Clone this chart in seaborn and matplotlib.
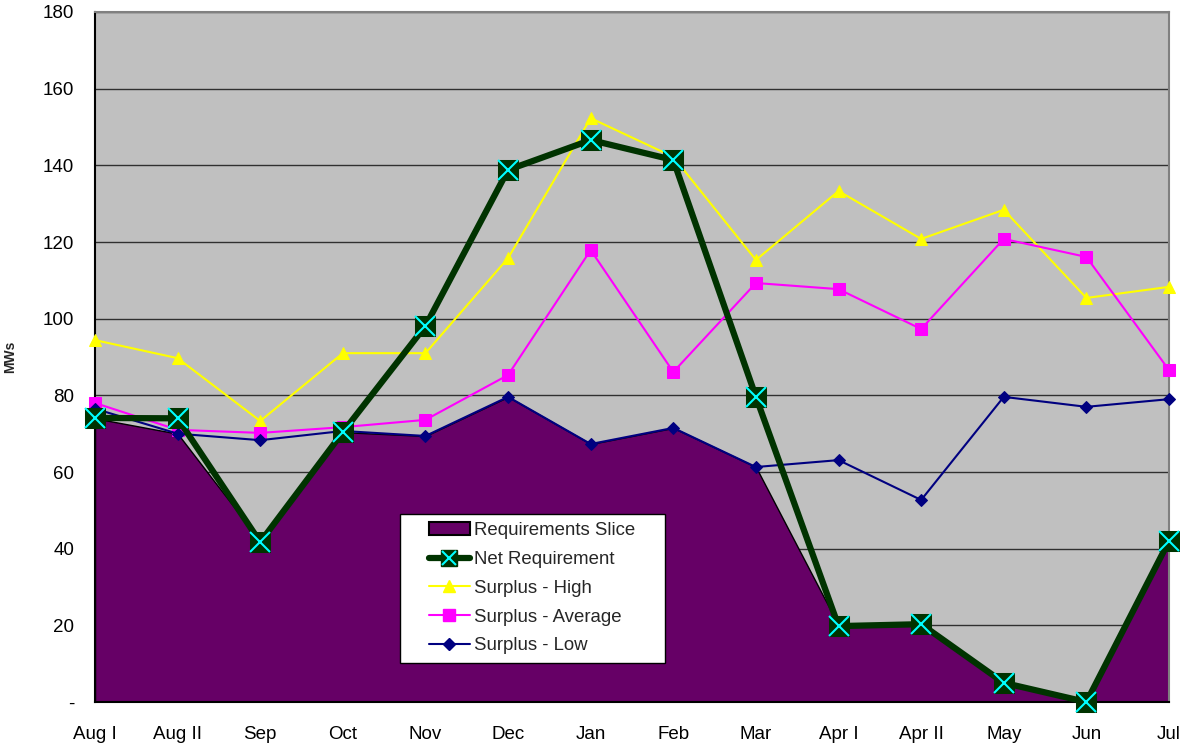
import numpy as np
import pandas as pd
import matplotlib
matplotlib.use("Agg")
import matplotlib.pyplot as plt
from matplotlib.lines import Line2D
from matplotlib.patches import Patch
from matplotlib.legend_handler import HandlerLine2D, HandlerPatch, HandlerTuple
import seaborn as sns

months = ["Aug I", "Aug II", "Sep", "Oct", "Nov", "Dec", "Jan", "Feb",
          "Mar", "Apr I", "Apr II", "May", "Jun", "Jul"]
req_slice = [74.0, 70.0, 42.0, 70.4, 69.4, 79.6, 67.3, 71.5, 61.3, 20.0, 20.3, 5.0, 0.0, 42.0]
net_req = [74.1, 74.0, 41.7, 70.4, 98.1, 138.8, 146.6, 141.4, 79.6, 19.8, 20.3, 5.0, 0.0, 42.0]
surplus_high = [94.4, 89.7, 73.3, 91.0, 91.0, 115.8, 152.3, 142.2, 115.3, 133.3, 120.8, 128.4, 105.4, 108.3]
surplus_avg = [78.0, 71.0, 70.2, 71.7, 73.6, 85.3, 117.9, 86.1, 109.3, 107.7, 97.3, 120.8, 116.1, 86.6]
surplus_low = [76.5, 70.0, 68.3, 70.7, 69.4, 79.6, 67.3, 71.5, 61.3, 63.1, 52.7, 79.6, 77.0, 79.0]

df = pd.DataFrame({
    "pos": np.arange(len(months)),
    "month": months,
    "slice": req_slice,
    "net": net_req,
    "high": surplus_high,
    "avg": surplus_avg,
    "low": surplus_low,
})

sns.set_style("white")
plt.rcParams["font.family"] = ["Liberation Sans", "DejaVu Sans"]

fig = plt.figure(figsize=(11.8, 7.44), dpi=100)
ax = fig.add_axes([95 / 1180, 1 - 702 / 744, (1169 - 95) / 1180, (702 - 12) / 744])
ax.set_facecolor("#C0C0C0")

# purple area under everything
ax.fill_between(df["pos"], 0, df["slice"], color="#660066", edgecolor="black",
                linewidth=1, zorder=2)

# surplus lines
sns.lineplot(data=df, x="pos", y="high", color="#FFFF00", marker="^", markersize=9,
             markeredgecolor="#FFFF00", linewidth=1.5, ax=ax, zorder=4)
sns.lineplot(data=df, x="pos", y="avg", color="#FF00FF", marker="s", markersize=8,
             markeredgecolor="#FF00FF", linewidth=1.5, ax=ax, zorder=4)
sns.lineplot(data=df, x="pos", y="low", color="#000080", marker="D", markersize=6,
             markeredgecolor="#000080", linewidth=1.5, ax=ax, zorder=4)

# net requirement: thick line, square + cyan cross
sns.lineplot(data=df, x="pos", y="net", color="#003300", marker="s", markersize=14,
             markeredgecolor="#003300", linewidth=4.5, ax=ax, zorder=5)
ax.plot(df["pos"], df["net"], linestyle="none", marker="x", markersize=14,
        markeredgecolor="#00FFFF", markeredgewidth=1.5, zorder=6)
for ln in ax.lines:
    ln.set_clip_on(False)

ax.set_xlim(0, len(months) - 1)
ax.set_ylim(0, 180)
ax.set_yticks(range(0, 181, 20))
ax.set_yticklabels(["-"] + [str(v) for v in range(20, 181, 20)], fontsize=13.5)
ax.set_xticks(df["pos"])
ax.set_xticklabels(months, fontsize=13.5)
ax.tick_params(axis="x", direction="out", length=5, width=1, pad=12.5, colors="black")
ax.tick_params(axis="y", direction="out", length=5, width=1, pad=10, colors="black")
ax.yaxis.grid(True, color="black", linewidth=1, alpha=0.75)
ax.set_axisbelow(True)
ax.set_xlabel("")
ax.set_ylabel("MWs", fontsize=10, fontweight="bold")
ax.yaxis.set_label_coords((17 - 95) / 1074, (702 - 357) / 690)

for s in ["left", "bottom"]:
    ax.spines[s].set_color("black")
    ax.spines[s].set_linewidth(1.5)
for s in ["top", "right"]:
    ax.spines[s].set_color("#808080")
    ax.spines[s].set_linewidth(1.5)

handles = [
    Patch(facecolor="#660066", edgecolor="black", linewidth=1.5),
    (Line2D([], [], color="#003300", linewidth=4.5, marker="s", markersize=11,
            markeredgecolor="#003300"),
     Line2D([], [], linestyle="none", marker="x", markersize=10,
            markeredgecolor="#00FFFF", markeredgewidth=1.5)),
    Line2D([], [], color="#FFFF00", marker="^", markersize=9, linewidth=1.5),
    Line2D([], [], color="#FF00FF", marker="s", markersize=8, linewidth=1.5),
    Line2D([], [], color="#000080", marker="D", markersize=6, linewidth=1.5),
]
labels = ["Requirements Slice", "Net Requirement", "Surplus - High",
          "Surplus - Average", "Surplus - Low"]
x0 = (400 - 95) / 1074
y_top = (702 - 514) / 690
leg = ax.legend(handles, labels, loc="upper left", mode="expand",
                bbox_to_anchor=(x0, y_top - 0.22, 265 / 1074, 0.22),
                handler_map={Line2D: HandlerLine2D(xpad=1.1),
                             Patch: HandlerPatch(xpad=1.1),
                             tuple: HandlerTuple(ndivide=1, xpad=1.1)},
                fontsize=13.4, frameon=True, fancybox=False, framealpha=1,
                edgecolor="black", facecolor="white", borderpad=0.45,
                labelspacing=0.63, handlelength=3.3, handletextpad=0.2,
                borderaxespad=0)
leg.get_frame().set_linewidth(1)
leg.set_zorder(10)

fig.savefig("out.png", dpi=100)
